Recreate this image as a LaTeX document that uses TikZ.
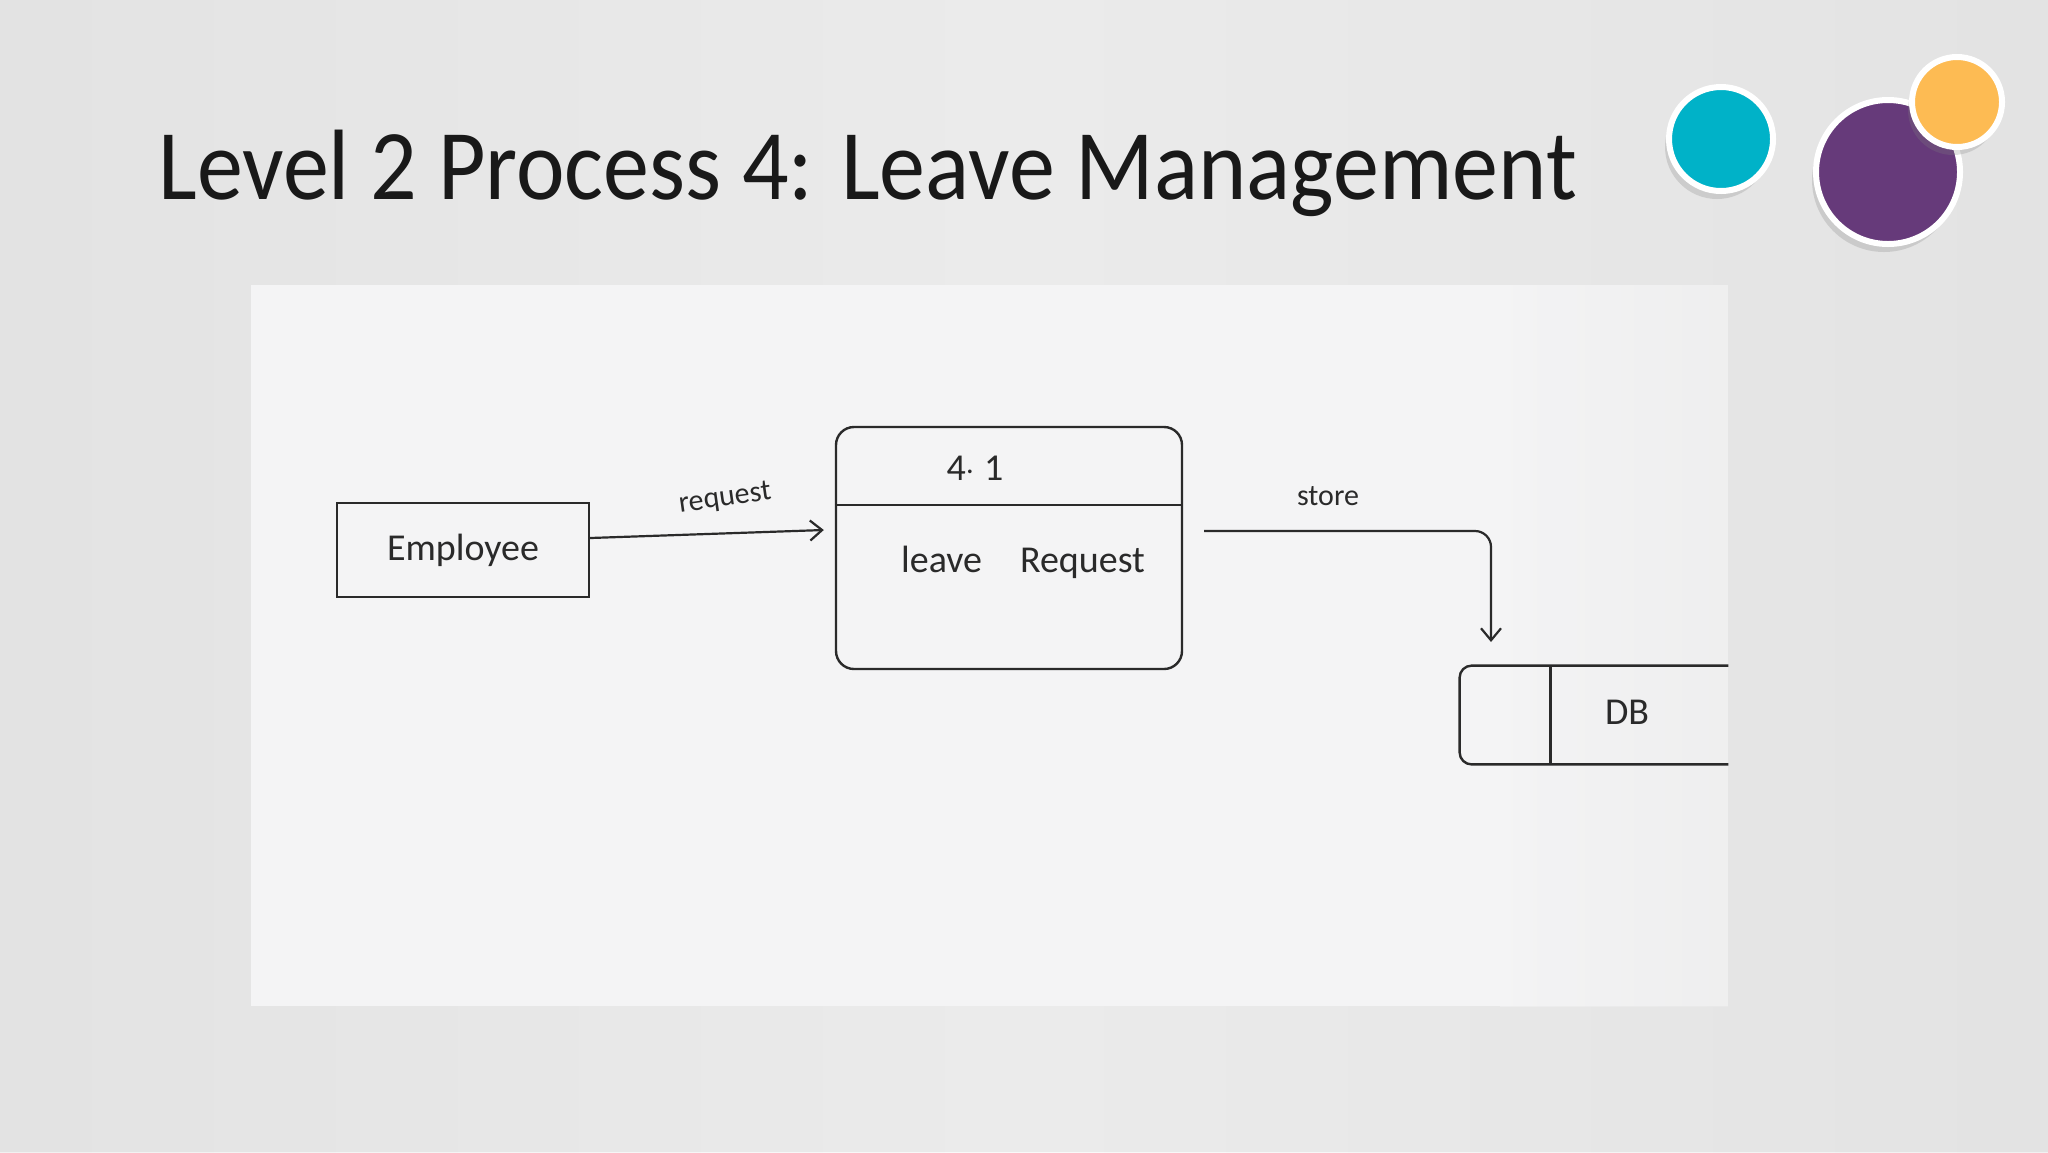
\documentclass[tikz,border=0pt]{standalone}
\usepackage{fontspec}
\setmainfont{Carlito}
\usetikzlibrary{arrows.meta,calc,shadows}
\definecolor{bgc}{HTML}{E3E3E3}
\definecolor{paper}{HTML}{F4F4F5}
\definecolor{ink}{HTML}{2A2A2A}
\definecolor{teal}{HTML}{00B2C8}
\definecolor{purp}{HTML}{663A7A}
\definecolor{oran}{HTML}{FDBB53}
\tikzset{
  hand/.style={font=\fontsize{19}{22}\selectfont, text=ink},
  small/.style={font=\fontsize{15}{18}\selectfont, text=ink},
  boxline/.style={draw=ink, line width=1.2pt},
  flow/.style={draw=ink, line width=1.1pt, -{Straight Barb[length=6pt,width=10pt]}},
  dot/.style={circle, draw=white, line width=3pt, inner sep=0pt,
    drop shadow={shadow xshift=-2pt, shadow yshift=-4pt, opacity=0.25}},
}
\begin{document}
\begin{tikzpicture}[x=0.5pt,y=-0.5pt]
\useasboundingbox (0,0) rectangle (2048,1152);
\fill[bgc] (0,0) rectangle (2048,1152);
\shade[left color=bgc, right color=bgc, middle color=white!60!bgc, opacity=0.5] (0,0) rectangle (2048,1152);
% photo
\fill[paper] (251,285) rectangle (1728,1006);
\shade[left color=paper, right color=gray!16, opacity=0.5] (1500,285) rectangle (1728,1006);
% title
\node[anchor=base west, inner sep=0pt, font=\fontsize{50}{60}\selectfont, text=black!90] (title) at (158,199) {\scalebox{0.92}[1]{Level 2 Process 4: Leave Management}};
% circles
\node[dot, fill=teal, minimum size=52pt] (c1) at (1721,139) {};
\node[dot, fill=purp, minimum size=72pt] (c2) at (1888,172) {};
\node[dot, fill=oran, minimum size=45pt] (c3) at (1957,102) {};
% employee
\node[boxline, rectangle, minimum width=126pt, minimum height=47pt, hand] (emp) at (463,550) {Employee};
% process
\node[boxline, rectangle, rounded corners=9pt, minimum width=173pt, minimum height=121pt] (proc) at (1009,548) {};
\draw[boxline] ($(proc.west)+(0,-43)$) coordinate (dl) -- (dl -| proc.east);
\node[hand] (pid) at (975,468) {4$\cdot$ 1};
\node[hand] (pname) at (1023,562) {leave\quad Request};
% data store
\node[rectangle, minimum width=134pt, minimum height=49pt, inner sep=0pt] (db) at (1594,715) {};
\draw[boxline, rounded corners=6pt] (db.north east) -- (db.north west) -- (db.south west) -- (db.south east);
\draw[boxline] ($(db.north west)+(91,0)$) -- ($(db.south west)+(91,0)$);
\node[hand] (dbt) at (1627,712) {DB};
% flows
\coordinate (s1) at (1204,531);
\coordinate (s2) at (1491,642);
\draw[flow] (emp.east |- 0,538) -- ($(proc.west)+(-11,-18)$);
\node[small, rotate=8] (lreq) at (725,499) {request};
\draw[flow, rounded corners=8pt] (s1) -| (s2);
\node[small] (lstore) at (1328,496) {store};
\end{tikzpicture}
\end{document}
